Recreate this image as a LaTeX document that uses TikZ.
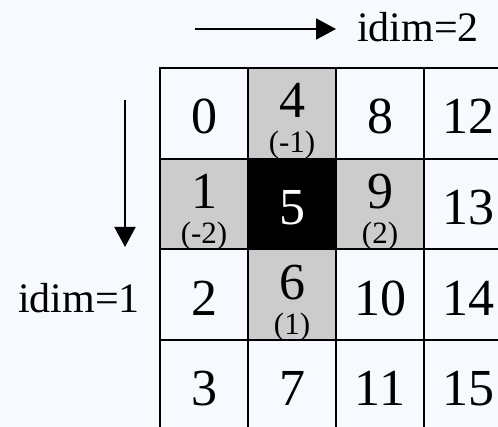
\documentclass[tikz,border=0pt]{standalone}
\usepackage{fontspec}
\setmainfont{Liberation Serif}
\usetikzlibrary{arrows.meta}

\definecolor{pagebg}{RGB}{246,249,253}

\begin{document}
\begin{tikzpicture}[x=1pt,y=-1pt,>={Triangle[length=20pt,width=21pt]},
  cell/.style={draw=black,line width=2.2pt,minimum width=88pt,minimum height=90.7pt,inner sep=0pt,
    font=\fontsize{52}{52}\selectfont,text height=41pt,text depth=0pt},
  nbr/.style={fill=black!20,text depth=32pt},
  mid/.style={fill=black,text=white},
  idx/.style={anchor=base,inner sep=0pt,font=\fontsize{31}{31}\selectfont},
  dimlab/.style={anchor=base west,inner sep=0pt,font=\fontsize{42}{42}\selectfont}]
\useasboundingbox (0,0) rectangle (498,427);
\clip (0,0) rectangle (498,427);
\fill[pagebg] (0,0) rectangle (498,427);

% first column (idim=1 runs down)
\node[cell] (c0) at (204,113.35) {0};
\node[cell,nbr] (c1) at (204,204.05) {1};
\node[cell] (c2) at (204,294.75) {2};
\node[cell] (c3) at (204,385.45) {3};
% second column
\node[cell,nbr] (c4) at (292,113.35) {4};
\node[cell,nbr] (c6) at (292,294.75) {6};
\node[cell] (c7) at (292,385.45) {7};
\node[cell,mid] (c5) at (292,204.05) {5};
% third column
\node[cell] (c8) at (380,113.35) {8};
\node[cell,nbr] (c9) at (380,204.05) {9};
\node[cell] (c10) at (380,294.75) {10};
\node[cell] (c11) at (380,385.45) {11};
% fourth column
\node[cell] (c12) at (468,113.35) {12};
\node[cell] (c13) at (468,204.05) {13};
\node[cell] (c14) at (468,294.75) {14};
\node[cell] (c15) at (468,385.45) {15};

% offsets of the neighbours
\node[idx] (o4) at ([yshift=7pt]c4.south) {(-1)};
\node[idx] (o1) at ([yshift=7pt]c1.south) {(-2)};
\node[idx] (o9) at ([yshift=7pt]c9.south) {(2)};
\node[idx] (o6) at ([yshift=7pt]c6.south) {(1)};

% directions
\node[dimlab] (dim2) at (357,42) {idim=2};
\node[dimlab] (dim1) at (18,313) {idim=1};
\coordinate (h0) at (195,29);
\coordinate (h1) at (336,29);
\coordinate (v0) at (125,100);
\coordinate (v1) at (125,247);
\draw[->,line width=2pt] (h0) -- (h1);
\draw[->,line width=2pt] (v0) -- (v1);
\end{tikzpicture}
\end{document}
